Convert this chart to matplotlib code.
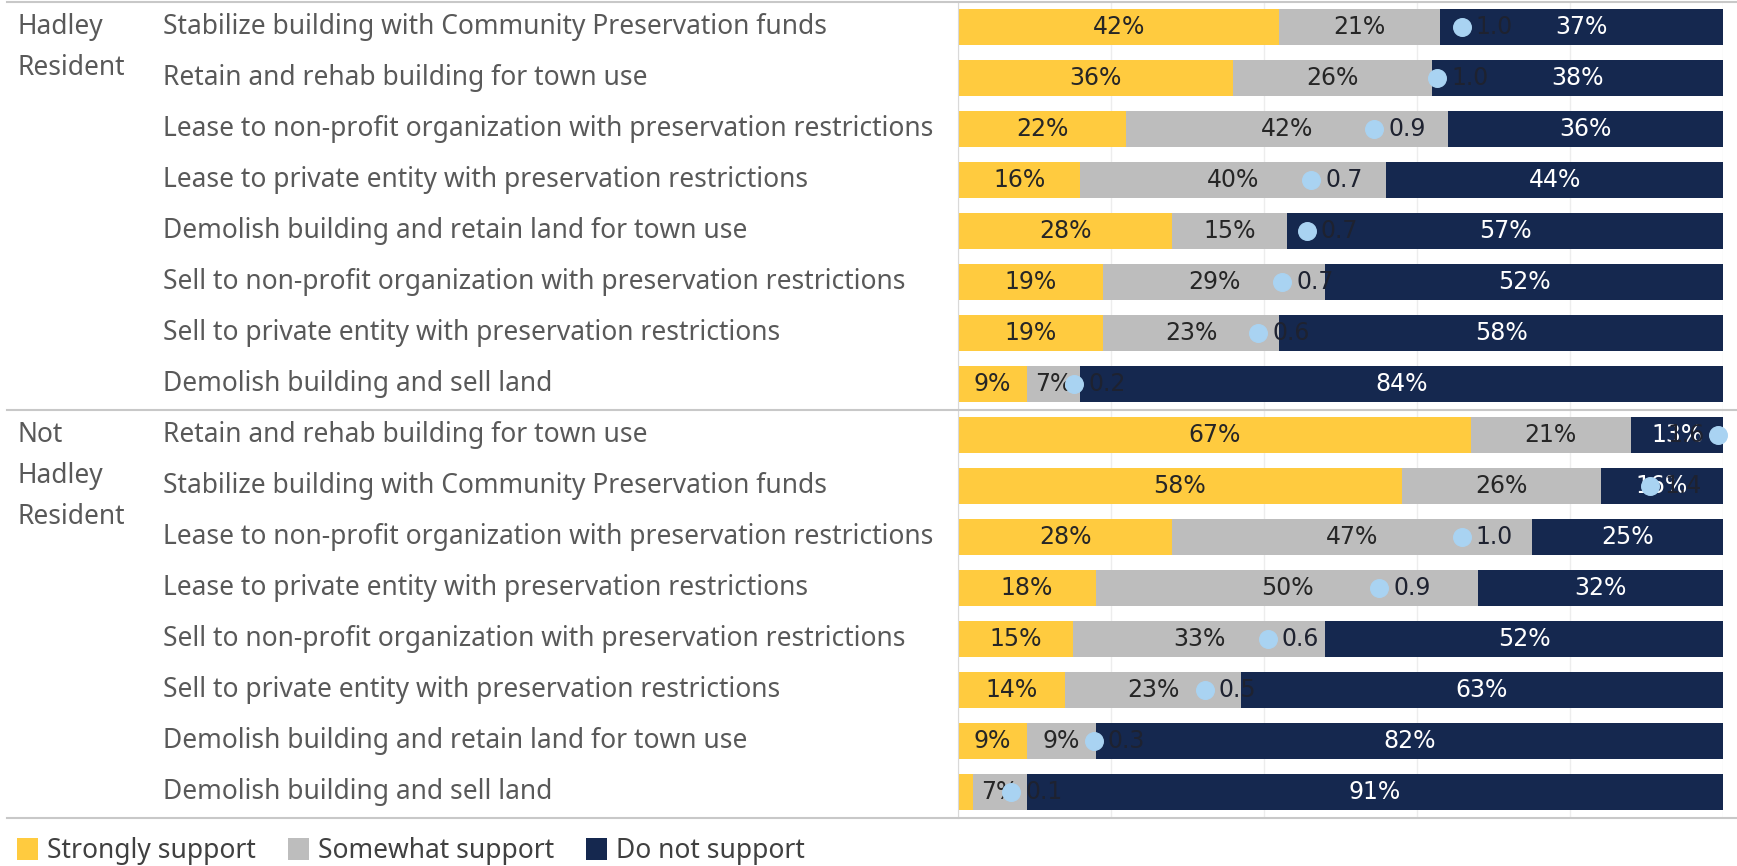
import matplotlib.pyplot as plt
import matplotlib.transforms as mtransforms
from matplotlib.lines import Line2D
from matplotlib.patches import Patch
import numpy as np

# survey options, top to bottom inside each group
hadley_items = [
    "Stabilize building with Community Preservation funds",
    "Retain and rehab building for town use",
    "Lease to non-profit organization with preservation restrictions",
    "Lease to private entity with preservation restrictions",
    "Demolish building and retain land for town use",
    "Sell to non-profit organization with preservation restrictions",
    "Sell to private entity with preservation restrictions",
    "Demolish building and sell land",
]
hadley_strong = [42, 36, 22, 16, 28, 19, 19, 9]
hadley_some = [21, 26, 42, 40, 15, 29, 23, 7]
hadley_not = [37, 38, 36, 44, 57, 52, 58, 84]
hadley_score = [1.04, 0.99, 0.86, 0.73, 0.72, 0.67, 0.62, 0.24]

other_items = [
    "Retain and rehab building for town use",
    "Stabilize building with Community Preservation funds",
    "Lease to non-profit organization with preservation restrictions",
    "Lease to private entity with preservation restrictions",
    "Sell to non-profit organization with preservation restrictions",
    "Sell to private entity with preservation restrictions",
    "Demolish building and retain land for town use",
    "Demolish building and sell land",
]
other_strong = [67, 58, 28, 18, 15, 14, 9, 2]
other_some = [21, 26, 47, 50, 33, 23, 9, 7]
other_not = [13, 16, 25, 32, 52, 63, 82, 91]
other_score = [1.57, 1.43, 1.04, 0.87, 0.64, 0.51, 0.28, 0.11]

groups = ["Hadley\nResident", "Not\nHadley\nResident"]
series_names = ["Strongly support", "Somewhat support", "Do not support"]
colors = ["#FFCB3F", "#BDBDBD", "#15284F"]
text_colors = ["#262626", "#262626", "white"]
dot_color = "#A9D3F2"
label_gray = "#595959"
label_font = "Noto Sans"
label_size = 19

items = hadley_items + other_items
strong = np.array(hadley_strong + other_strong)
some = np.array(hadley_some + other_some)
notsup = np.array(hadley_not + other_not)
score = np.array(hadley_score + other_score)
y = np.arange(len(items))

W, H = 1737, 866
fig = plt.figure(figsize=(W / 100, H / 100), dpi=100)
ax = fig.add_axes([958 / W, 1 - 817.5 / H, 765 / W, 816 / H])

lefts = np.zeros(len(items))
for vals, c, tc in zip([strong, some, notsup], colors, text_colors):
    ax.barh(y, vals, left=lefts, height=0.72, color=c, zorder=2)
    for yi, l, v in zip(y, lefts, vals):
        if v >= 5:
            ax.text(min(l + v / 2, (l + 100) / 2), yi, f"{v}%", ha="center", va="center",
                    color=tc, fontsize=17, zorder=5)
    lefts = lefts + vals

ax.set_xlim(0, 100)
ax.set_ylim(len(items) - 0.5, -0.5)
ax.set_xticks([0, 20, 40, 60, 80, 100])
ax.grid(axis="x", color="#EDEDED", linewidth=1)
ax.set_axisbelow(True)
for s in ["top", "right", "bottom"]:
    ax.spines[s].set_visible(False)
ax.spines["left"].set_color("#D9D9D9")

# mean score dots on their own scale
ax2 = ax.twiny()
ax2.set_xlim(0, 1.58)
ax2.axis("off")
ax.tick_params(left=False, bottom=False, top=False, labelleft=False,
               labelbottom=False, labeltop=False)
ax2.scatter(score, y, s=160, color=dot_color, zorder=6, clip_on=False)
for yi, sc in zip(y, score):
    if sc > 1.5:
        ax2.annotate(f"{sc:.1f}", (sc, yi), xytext=(-10, 0), textcoords="offset points",
                     ha="right", va="center", fontsize=17, color="#1E2230", zorder=7)
    else:
        ax2.annotate(f"{sc:.1f}", (sc, yi), xytext=(10, 0), textcoords="offset points",
                     ha="left", va="center", fontsize=17, color="#1E2230", zorder=7)

# row and group labels
tr = mtransforms.blended_transform_factory(fig.transFigure, ax.transData)
for yi, name in zip(y, items):
    ax.text(163 / W, yi, name, transform=tr, ha="left", va="center",
            fontsize=label_size, color=label_gray, family=label_font)
starts = [0, len(hadley_items)]
for g, st in zip(groups, starts):
    for k, word in enumerate(g.split("\n")):
        ax.text(17 / W, st + 0.8 * k, word, transform=tr, ha="left", va="center",
                fontsize=label_size, color=label_gray, family=label_font)

# separator lines
for yl in [-0.5, len(hadley_items) - 0.5, len(items) - 0.5]:
    fig.add_artist(Line2D([7 / W, 1], [yl, yl], transform=tr, color="#C8C8C8",
                          linewidth=1.5, clip_on=False))

handles = [Patch(facecolor=c, edgecolor="none") for c in colors]
fig.legend(handles, series_names, loc="center left", bbox_to_anchor=(17 / W, 1 - 851 / H),
           ncol=3, frameon=False, borderpad=0, borderaxespad=0,
           handlelength=0.8, handleheight=0.9, handletextpad=0.35,
           columnspacing=1.2, prop={"family": label_font, "size": label_size},
           labelcolor="#404040")

fig.savefig("out.png", dpi=100)
